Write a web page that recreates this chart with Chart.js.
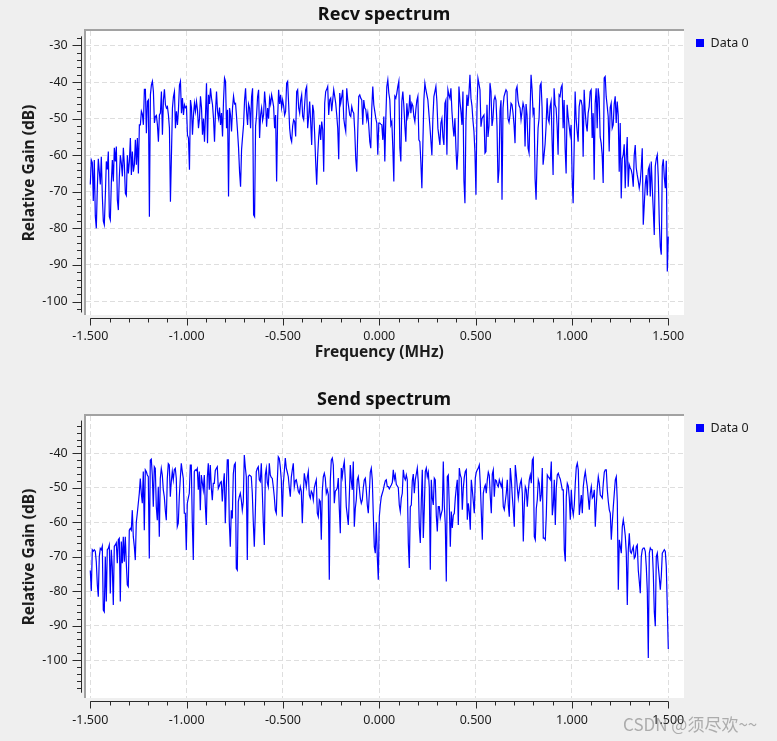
<!DOCTYPE html>
<html>
<head>
<meta charset="utf-8">
<title>Recv / Send spectrum</title>
<script src="https://cdn.jsdelivr.net/npm/chart.js@4/dist/chart.umd.min.js"></script>
<style>
  html, body { margin: 0; padding: 0; background: #efefef; overflow: hidden; }
  body { width: 777px; height: 741px; position: relative; }
  .plot { position: absolute; left: 0; width: 777px; }
  #recvBox { top: 0; height: 370px; }
  #sendBox { top: 385px; height: 384px; }
  .mark {
    position: absolute; left: 623px; top: 711px;
    font: 17px 'Noto Sans CJK SC', 'Noto Sans', sans-serif;
    color: rgba(105, 105, 105, 0.5); white-space: nowrap;
  }
</style>
</head>
<body>
<div id="recvBox" class="plot"><canvas id="recvChart"></canvas></div>
<div id="sendBox" class="plot"><canvas id="sendChart"></canvas></div>
<div class="mark">CSDN @须尽欢~~</div>
<script>
// frequency span of the FFT bins (MHz)
const fStart = -1.5;
const fStop = 1.5;

const freqTicks = [-1.5, -1.0, -0.5, 0, 0.5, 1.0, 1.5];
const recvGainTicks = [-100, -90, -80, -70, -60, -50, -40, -30];
const sendGainTicks = [-100, -90, -80, -70, -60, -50, -40];

// Recv spectrum, dB per bin, left to right
const recvGain = [
  -68, -61.3, -62, -72.5, -61.3, -76.6, -80, -69, -61, -64.5,
  -68, -60.4, -71, -78, -79, -71, -61.7, -63.9, -59, -76.8,
  -77.7, -67.6, -61.3, -67.2, -58, -61.7, -57.6, -72.2, -75, -65.8,
  -60, -62.2, -65.8, -58, -62.6, -70.4, -71, -60, -65, -61.7,
  -55.3, -65.4, -59, -64.5, -62.6, -55.8, -62.6, -55.3, -65, -51.7,
  -51.7, -48, -48.8, -51.7, -42, -42, -54, -45.3, -44.9, -76.8,
  -43.5, -40.8, -39.8, -42.6, -51.2, -49.4, -49.1, -51.7, -56.3, -49,
  -48.5, -42.6, -54.4, -44.9, -42, -46.2, -47.1, -46.7, -49, -52.6,
  -72.7, -60, -47.1, -44, -42.6, -52.6, -48, -51.7, -47.6, -40.8,
  -39.8, -48.5, -44.4, -49, -46.2,
  -47, -46.7, -54.5, -55.3, -64, -44.9, -47, -54.4, -49, -45.8,
  -48, -45.3, -47.6, -52.6, -50, -43.9, -47, -54.4, -50, -56.3,
  -49, -40.3, -56.7, -43.5, -46, -41.7, -44.4, -46.2, -50, -56.3,
  -48, -42.6, -48, -49.9, -47, -51.7, -48.5, -54.9, -45, -38.9,
  -39.8, -52.6, -47.6, -71.3, -47.1, -49, -53.5, -47, -43.9, -46,
  -45.8, -49.5, -53.5, -58, -64.5, -68.6, -58.5, -55, -51.7, -45,
  -41.7, -48, -51.7, -46, -47.1, -52.6, -44, -41.7, -76.3, -76.8,
  -52, -49, -44, -42.1, -55.3, -49, -47.1, -50.5, -49, -42.6,
  -46, -52.2, -47.1, -50, -44.4, -46, -43.5, -45, -46.7, -52.6,
  -49, -67.2, -50, -42.1, -46, -43.5, -47, -44.9, -46.5, -49,
  -48, -40.3, -39.8, -46, -52.6, -55.3, -56.3, -52, -50.3, -50.8,
  -54.9, -42.6, -42.1, -47.1, -48.5, -45, -43.5, -49.4, -50.3, -46,
  -42.1, -41.2, -52.6, -49.4, -45.3, -51, -57.2, -46.2, -48, -54.4,
  -62, -68.1, -60, -55, -51.7, -55.8, -50.8, -53, -64.5, -45.8,
  -42.6, -42, -41.2, -49, -44.9, -44.4, -48, -45, -42.1, -43.9,
  -45.8, -49, -52.6, -61.1, -43, -45.8, -44, -42.1, -49.9, -52,
  -53.5, -41.7, -44.9, -47, -49, -49.4, -46.7, -48, -48.5, -53.5,
  -61, -64.5, -53.5, -43.9, -43.5, -44.4, -44.9, -51.7, -44.9, -47.1,
  -47.5, -50.3, -48.5, -52, -56.3, -58.1, -47.1, -41.2, -46.2, -48,
  -49.9, -51.2, -59.9, -51.2, -51.2, -51.5, -51.7, -55.8, -49.4, -61.7,
  -50, -41.2, -39.4, -43, -44.9, -51.7, -50.8, -58, -67.2, -43.9,
  -44.4, -43, -41.2, -39.8, -58, -61.7, -45.3, -42.6, -46.5, -52,
  -56.3, -45.8, -49.5, -48, -43.5, -48.5, -45.8, -46.5, -49.4, -50.8,
  -47.5, -45, -43.9, -55.8, -56.3, -62, -69, -57, -44.9, -40.3,
  -42.1, -43.5, -44.9, -48.5, -52, -56, -60, -49.9, -44, -42.6,
  -41.2, -45.3, -52.6, -55, -57.2, -51.2, -50, -55, -57.2, -45.8,
  -44.9, -59.9, -42.1, -43.5, -44.4, -41.7, -48, -52, -54.9, -49.9,
  -58, -64, -58.5, -41.2, -45.3, -48, -51.7, -42.6, -67, -73.1,
  -50.8, -43.5, -46.5, -43, -38, -44.4, -46.5, -50.5, -53.5, -59.4,
  -70.8, -47.6, -39, -40.5, -42.1, -52.2, -50, -49.4, -49, -59.4,
  -59, -46.2, -55, -52, -40.3, -42.6, -52, -50, -44.9, -43.9,
  -45, -52, -67.6, -64, -48, -45, -72.2, -47.1, -44, -43,
  -42.1, -42.6, -50, -51, -49, -45.8, -46.2, -48.5, -51.7, -56.7,
  -42.1, -41.2, -45, -46.5, -47.1, -50.3, -48, -45.8, -47, -57.6,
  -46, -49, -58.1, -59.4, -48, -38, -42, -48.5, -47, -66.3,
  -72.2, -61, -52.6, -49.9, -41, -40.3, -47, -62.6, -59.9, -57,
  -52, -44.4, -50, -51, -46.7, -45.3, -56, -65.4, -41.7, -46.2,
  -47.1, -52, -59.9, -43.5, -43.9, -41.5, -40.8, -52.6, -44.9, -58,
  -65, -46.2, -49.4, -52, -54.4, -51.7, -66, -73.1, -58.1, -42.6,
  -50, -53.5, -56.3, -46.7, -44.9, -45, -46.5, -60.4, -42.1, -48,
  -51.5, -53.5, -48.5, -46.7, -42.6, -42.1, -55.3, -48.5, -66.7, -45.8,
  -41.7, -52.6, -41.7, -44.4, -55, -56.7, -60, -67.6, -38.9, -38.5,
  -44, -46.5, -49.4, -59, -47, -45.8, -52.6, -51.7, -46, -43.9,
  -51.2, -45.3, -49, -64.5, -51.2, -71.8, -61, -59.9, -57, -69,
  -60.5, -55, -68.6, -62.6, -63.5, -64, -65.4, -68.6, -60, -57.2,
  -63.5, -65.4, -67, -69, -67.2, -63.5, -58.1, -79, -73.6, -68,
  -65.4, -71, -64, -63, -71.3, -61.7, -69, -75, -81.8, -63,
  -61, -59.9, -66, -78.1, -85, -87.2, -63, -61.1, -66, -69,
  -61.5, -91.8, -82.2
];

// Send spectrum, dB per bin, left to right
const sendGain = [
  -74, -80, -68, -68.4, -68, -68.4, -71.5, -78, -81.6, -70,
  -67.6, -68, -67, -85.5, -86, -70, -83, -68, -67.6, -66.6,
  -80.7, -68, -73, -84, -67, -66.6, -66, -71.9, -65.1, -64.7,
  -83, -65.6, -71.9, -64.2, -71.5, -64.2, -71.9, -78.2, -78.7, -62.3,
  -61.8, -62.3, -56.5, -64.2, -67, -71, -60, -57.4, -54.5, -51.6,
  -47.3, -51.6, -54.5, -45.3, -62.3, -44.8, -45.3, -46.3, -46.8, -70.5,
  -42, -41.7, -46.3, -55.5, -43.9, -44.4, -55.5, -59.4, -49.7, -64.2,
  -47.3, -44.4, -46.3, -50.6, -52.6, -56.5, -59.4, -47.3, -43, -43.4,
  -52.6, -48.2, -45.3, -47.7, -44.8, -44.4, -47.3, -61.3, -60.3, -52.6,
  -47.3, -42.9, -45.3, -47.3, -57.4,
  -57.4, -68.1, -54.5, -53, -51.6, -43.4, -43.4, -60, -71, -45.3,
  -44.8, -45, -44.4, -50.6, -45.3, -56.5, -46.3, -48.5, -50.6, -46.3,
  -55, -60.8, -47, -42.9, -50.6, -43.4, -50, -53.6, -48.7, -48.7,
  -45, -44.4, -43.9, -50.2, -49.5, -48.5, -48.2, -54, -49, -45.8,
  -60.3, -50.2, -41.9, -41.9, -60, -67.1, -56.5, -58.9, -46, -43.4,
  -42.9, -73.4, -73.9, -54, -52.6, -51.6, -53.5, -56.5, -54, -40.5,
  -44, -46.8, -71, -46.8, -46.3, -46.5, -46.8, -51.6, -60, -67.1,
  -57.4, -45.3, -44.4, -43.9, -47.7, -48.2, -42.9, -51.1, -60, -66.6,
  -46.3, -44.4, -48.5, -49.7, -42.9, -46.3, -47, -47.3, -49.7, -52.6,
  -56.5, -57.4, -48.2, -41, -41.5, -44, -47.7, -58.4, -49, -45.3,
  -41.4, -44.3, -45.5, -46.8, -50, -52.6, -47, -44.8, -42.9, -49.7,
  -48, -47.7, -49.2, -51, -51.6, -49.7, -51, -60.3, -52, -45.8,
  -47.7, -49.7, -47, -45.3, -52.1, -53, -51, -51.6, -53.5, -50,
  -48.7, -47.7, -57.4, -58.4, -53.5, -54, -65.1, -51, -46.8, -45.8,
  -47.2, -51.6, -50.6, -52, -76.7, -48, -42, -41.4, -43.4, -54.5,
  -51, -50.6, -50.1, -47.2, -56, -63.2, -44.3, -46.8, -44, -42.4,
  -47.7, -55.5, -58, -60.8, -52.6, -43.4, -48, -50.6, -42.4, -61.3,
  -56, -53.5, -47.7, -46.8, -50, -53, -54.5, -53.5, -50, -47.7,
  -47.2, -50.6, -55, -57.4, -51.6, -45.5, -44.3, -47.7, -58, -67.1,
  -69, -60, -70, -76.7, -58.4, -55, -52.6, -51.6, -50.6, -49.2,
  -48, -47.7, -49.7, -49.7, -50.3,
  -49.7, -49.2, -48.5, -44.8, -47.5, -46.3, -49, -49.5, -50, -55,
  -56.9, -53, -51.6, -44.8, -47, -47.7, -46.3, -47.7, -66, -73.3,
  -55.5, -55, -48, -46, -51.6, -47.7, -46, -44.3, -48.5, -61.3,
  -66, -54, -44.8, -64.6, -56, -45.3, -44.3, -46.8, -45.5, -50,
  -73.8, -47.7, -53, -55, -47.2, -47.7, -58, -62.7, -55.5, -55.5,
  -58.8, -57.5, -56.4, -42.4, -55, -60.8, -77.2, -46.8, -46.3, -55,
  -67.1, -56.9, -61.7, -58, -57.4, -53, -50, -47.7, -60.8, -44.3,
  -46.3, -47.2, -56.4, -50.1, -47, -45.3, -44.8, -59.3, -54.5, -57,
  -62.2, -47.7, -50.6, -54, -57.4, -47.2, -45.5, -44.8, -44.3, -43.4,
  -49, -57, -65.1, -51.6, -50, -49.2, -51.6, -47.7, -45.5, -46.5,
  -52.6, -57.4, -46, -44.8, -52.6, -47.7, -47.9, -49.2, -49.7, -47.7,
  -48.7, -49.7, -48.2, -55.5, -56.4, -54, -51.6, -47.7, -55, -58.4,
  -44.3, -47.7, -52.5, -56.4, -61.3, -43.4, -46.3, -50, -53, -50.6,
  -48.7, -47.7, -51.6, -65.6, -55, -49.7, -50.6, -55.5, -51, -47.7,
  -46.3, -48.7, -42, -41.4, -64.2, -65.1, -56, -53.5, -47.7, -48.7,
  -54, -52, -44.3, -64.6, -64.6, -65.1, -58, -46.3, -46.8, -47.2,
  -47.7, -42.4, -58, -55, -47.7, -60.8, -50, -46.3, -45.8, -46.8,
  -47.5, -49, -50.6, -50.6, -68, -71.4, -52.6, -48.7, -49.5, -53,
  -59.3, -50.6, -56, -57.9, -55, -48.7, -44, -42.9, -44.8, -57.9,
  -55, -52.1, -57.4, -49.7, -47, -45.3, -47.7, -49.7, -53, -56.4,
  -51.6, -49.7, -53, -52.5, -50.6, -61.3, -55, -50, -46.8, -48.7,
  -52.1, -52.5, -53, -48.7, -45.5, -44.8, -44.8, -50.6, -54, -56.4,
  -57.4, -65.1, -60, -55.5, -51.6, -47.7, -46.8, -54, -79.6, -65.1,
  -67, -69, -61.3, -59.3, -61.3, -64, -69, -84, -68, -63.2,
  -68.5, -69, -68, -67.1, -70.5, -70, -67.1, -66.6, -74, -77.2,
  -80.6, -70, -68, -67.5, -67.5, -68.5, -72.9, -80, -99.4, -69,
  -67.5, -68, -68, -74.8, -86, -90.2, -70, -69, -72.9, -76,
  -79.6, -75.7, -69, -68.5, -68, -68.5, -72.9, -85, -96.8
];

const FONT = "'Noto Sans', 'DejaVu Sans', sans-serif";
const TEXT = '#1c1c1c';
const GRID = '#dedede';

const binFreq = (i, n) => fStart + (fStop - fStart) * i / (n - 1);

// Qwt look: sunken white canvas, backbone axes with minor ticks, legend at the right
const qwtDecor = {
    id: 'qwtDecor',
    afterLayout(chart) {
        // Qwt centres the axis title on the scale span, not on the canvas
        const x = chart.scales.x;
        const mid = (x.getPixelForValue(fStart) + x.getPixelForValue(fStop)) / 2;
        const shift = mid - (x.left + x.right) / 2;
        x.left += shift;
        x.right += shift;
    },
    beforeDraw(chart) {
        const { ctx, chartArea: a } = chart;
        ctx.save();
        ctx.fillStyle = '#ffffff';
        ctx.fillRect(a.left, a.top, a.right - a.left, a.bottom - a.top);
        ctx.fillStyle = '#a2a2a2';
        ctx.fillRect(a.left - 2, a.top - 2, a.right - a.left + 2, 2);
        ctx.fillRect(a.left - 2, a.top - 2, 2, a.bottom - a.top + 2);
        ctx.restore();
    },
    afterDraw(chart, args, opts) {
        const { ctx, chartArea: a, scales: { x, y } } = chart;
        ctx.save();
        ctx.strokeStyle = '#2a2a2a';
        ctx.lineWidth = 1;
        ctx.beginPath();

        // left axis
        const bx = Math.round(a.left - 5) + 0.5;
        ctx.moveTo(bx, y.getPixelForValue(opts.ySpan[1]));
        ctx.lineTo(bx, y.getPixelForValue(opts.ySpan[0]));
        for (let v = Math.ceil(opts.ySpan[0] / 2) * 2; v <= opts.ySpan[1]; v += 2) {
            const py = Math.round(y.getPixelForValue(v)) + 0.5;
            const len = v % 10 === 0 ? 9 : 4.5;
            ctx.moveTo(bx, py);
            ctx.lineTo(bx - len, py);
        }

        // bottom axis
        const by = Math.round(a.bottom + 3) + 0.5;
        ctx.moveTo(x.getPixelForValue(fStart), by);
        ctx.lineTo(x.getPixelForValue(fStop), by);
        for (let k = Math.round(fStart * 10); k <= Math.round(fStop * 10); k++) {
            const px = Math.round(x.getPixelForValue(k / 10)) + 0.5;
            const len = k % 5 === 0 ? 7 : 4;
            ctx.moveTo(px, by);
            ctx.lineTo(px, by + len);
        }
        ctx.stroke();

        // legend
        const ds = chart.data.datasets[0];
        ctx.fillStyle = ds.borderColor;
        ctx.fillRect(a.right + 12, a.top + 8, 8, 8);
        ctx.fillStyle = TEXT;
        ctx.font = '12.5px ' + FONT;
        ctx.textBaseline = 'middle';
        ctx.textAlign = 'left';
        ctx.fillText(ds.label, a.right + 26.5, a.top + 12.5);
        ctx.restore();
    }
};

const makeSpectrum = (canvasId, cfg) => {
    const points = cfg.gain.map((g, i) => ({ x: binFreq(i, cfg.gain.length), y: g }));

    return new Chart(document.getElementById(canvasId), {
        type: 'line',
        data: {
            datasets: [{
                label: 'Data 0',
                data: points,
                borderColor: '#0000ff',
                borderWidth: 1.2,
                pointRadius: 0,
                tension: 0,
                fill: false
            }]
        },
        options: {
            responsive: true,
            maintainAspectRatio: false,
            animation: false,
            events: [],
            layout: { padding: { left: 0, right: 9, top: 0, bottom: 0 } },
            plugins: {
                legend: { display: false },
                tooltip: { enabled: false },
                title: {
                    display: true,
                    text: cfg.title,
                    color: '#111111',
                    font: { family: FONT, size: 18, weight: 'bold' },
                    padding: { top: 4.2, bottom: 5.2 }
                },
                qwtDecor: { ySpan: cfg.ySpan }
            },
            scales: {
                x: {
                    type: 'linear',
                    min: -1.5223,
                    max: 1.5815,
                    afterBuildTicks: ax => { ax.ticks = freqTicks.map(v => ({ value: v })); },
                    afterFit: ax => { ax.height = cfg.xAxisHeight; },
                    ticks: {
                        callback: v => v.toFixed(3),
                        color: TEXT,
                        font: { family: FONT, size: 12.5 },
                        padding: cfg.xLabelPad,
                        maxRotation: 0,
                        autoSkip: false
                    },
                    grid: { color: GRID, drawTicks: false },
                    border: { display: false, dash: [5, 3] },
                    title: {
                        display: true,
                        text: 'Frequency (MHz)',
                        color: TEXT,
                        font: { family: FONT, size: 15.5, weight: 'bold' },
                        padding: { top: 0, bottom: cfg.xTitlePad }
                    }
                },
                y: {
                    type: 'linear',
                    min: cfg.yMin,
                    max: cfg.yMax,
                    afterBuildTicks: ax => { ax.ticks = cfg.yTicks.map(v => ({ value: v })); },
                    afterFit: ax => { ax.width = 86; },
                    ticks: {
                        color: TEXT,
                        font: { family: FONT, size: 12.5 },
                        padding: 18.3
                    },
                    grid: { color: GRID, drawTicks: false },
                    border: { display: false, dash: [5, 3] },
                    title: {
                        display: true,
                        text: 'Relative Gain (dB)',
                        color: TEXT,
                        font: { family: FONT, size: 15.5, weight: 'bold' },
                        padding: { top: 20.7, bottom: 0 }
                    }
                },
                // empty box that keeps room for the legend column
                side: {
                    type: 'linear',
                    axis: 'y',
                    position: 'right',
                    afterFit: ax => { ax.width = 84; },
                    ticks: { display: false },
                    grid: { display: false },
                    border: { display: false }
                }
            }
        },
        plugins: [qwtDecor]
    });
};

document.addEventListener('DOMContentLoaded', () => {
    makeSpectrum('recvChart', {
        title: 'Recv spectrum',
        gain: recvGain,
        yTicks: recvGainTicks,
        yMin: -103.69,
        yMax: -26.04,
        ySpan: [-103, -27.5],
        xAxisHeight: 55,
        xLabelPad: 14.2,
        xTitlePad: 7.7
    });

    makeSpectrum('sendChart', {
        title: 'Send spectrum',
        gain: sendGain,
        yTicks: sendGainTicks,
        yMin: -111.03,
        yMax: -29.17,
        ySpan: [-109.5, -30.5],
        xAxisHeight: 71,
        xLabelPad: 15.2,
        xTitlePad: 7.7
    });
});
</script>
</body>
</html>
